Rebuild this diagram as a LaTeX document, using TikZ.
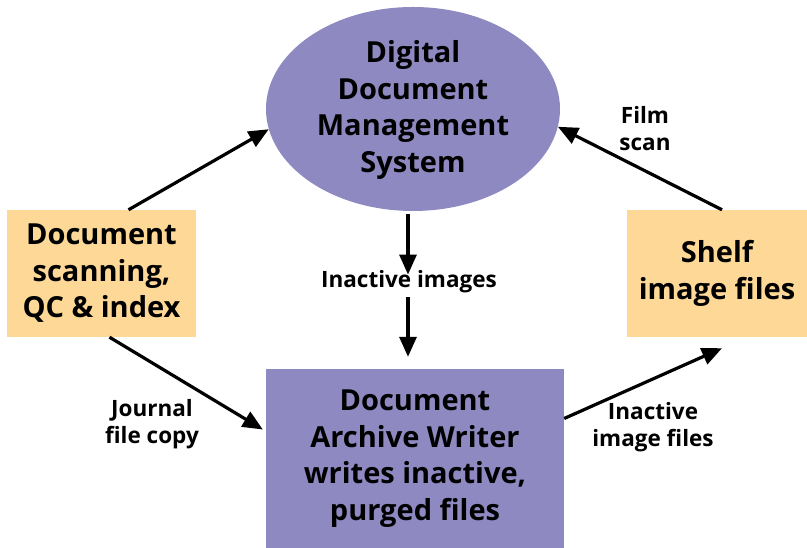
\documentclass[tikz,border=0pt]{standalone}
\usepackage{fontspec}
\setmainfont{Open Sans}
\usetikzlibrary{arrows.meta,shapes.geometric,positioning}
\definecolor{lilac}{HTML}{8E89C1}
\definecolor{sand}{HTML}{FDD896}

\begin{document}
\begin{tikzpicture}
[x=1pt, y=1pt, font=\bfseries,
 big/.style={font=\fontsize{29}{36.5}\selectfont\bfseries, align=center, inner sep=0pt},
 small/.style={font=\fontsize{22.5}{27}\selectfont\bfseries, align=center, inner sep=0pt},
 flow/.style={line width=3.2pt, -{Triangle[length=20pt,width=17pt]}}]

\useasboundingbox (0,0) rectangle (807,548);

\node[big, ellipse, fill=lilac, minimum width=294pt, minimum height=204pt] (dms) at(413,439){};
\node[big] at(413,438){Digital\\Document\\Management\\System};

\node[big, fill=sand, minimum width=189pt, minimum height=127pt] (scan) at(101.5,274.5){Document\\scanning,\\QC \& index};
\node[big, fill=sand, minimum width=180pt, minimum height=127pt] (shelf) at(717,274.5){Shelf\\image files};
\node[big, fill=lilac, minimum width=298pt, minimum height=179pt] (writer) at(415,89.5){Document\\Archive Writer\\writes inactive,\\purged files};

\node[small] (inact) at(409,266){Inactive images};
\node[small] (journal) at(152,124){Journal\\file copy};
\node[small] (film) at(645,419){Film\\scan};
\node[small] (imgfiles) at(653,121){Inactive\\image files};

\draw[flow] ([xshift=27pt]scan.north) -- (dms.188);
\draw[flow] ([xshift=5pt]shelf.north) -- (dms.353);
\draw[flow] ([xshift=-5pt,yshift=-3pt]dms.south) -- ([xshift=-1pt,yshift=-4pt]inact.north);
\draw[flow] ([xshift=-1pt,yshift=-4pt]inact.south) -- ([xshift=-7pt,yshift=12pt]writer.north);
\draw[flow] ([xshift=8pt]scan.south) -- ([xshift=-3pt,yshift=29pt]writer.west);
\draw[flow] ([yshift=40pt]writer.east) -- ([xshift=5pt,yshift=-11pt]shelf.south);
\end{tikzpicture}
\end{document}
